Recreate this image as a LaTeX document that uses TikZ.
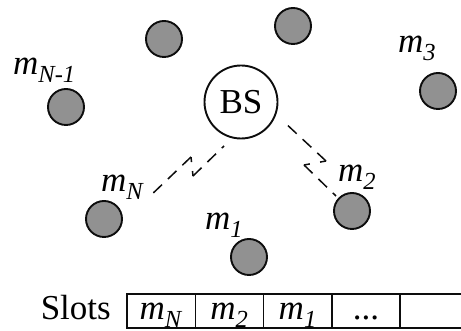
\documentclass[tikz,border=0pt]{standalone}
\usepackage{fontspec}
\setmainfont{Liberation Serif}
\usetikzlibrary{positioning,calc}
\def\normaledge{1.9}
\definecolor{edgeblack}{rgb}{0.05,0.05,0.05}
\definecolor{usergray}{rgb}{0.57,0.57,0.57}
\newcommand{\mlab}[1]{\textit{m}\textsubscript{\textit{#1}}}
\tikzset{
  big/.style={font=\fontsize{35}{40}\selectfont, inner sep=0pt},
  user/.style={circle, draw=edgeblack, fill=usergray, line width=\normaledge, minimum size=36pt, inner sep=0pt},
  station/.style={big, circle, draw=edgeblack, line width=\normaledge, minimum size=73pt},
  link/.style={line width=1.5, color=edgeblack, dash pattern=on 12pt off 8pt},
  cell/.style={big, draw=edgeblack, line width=1.5, minimum width=68.3pt, minimum height=34pt, outer sep=0pt, text height=20pt, text depth=2pt}
}
\begin{document}
\begin{tikzpicture}[x = 1pt, y = 1pt]
  \useasboundingbox (0,0) rectangle (461,331);
  \clip (0,0) rectangle (461,331);

  \node [station] (BS) at (241,229) {BS};

  \node [user] (u1) at (164,292) {};
  \node [user] (u2) at (293,305) {};
  \node [user] (u3) at (438,240) {};
  \node [user] (uN1) at (66,224) {};
  \node [user] (uN) at (104,112) {};
  \node [user] (um1) at (249,74) {};
  \node [user] (um2) at (352,120) {};

  \node [big, anchor=base west] (l3) at (398,278) {\mlab{3}};
  \node [big, anchor=base west] (lN1) at (13,256) {\mlab{N-1}};
  \node [big, anchor=base west] (lN) at (101,139) {\mlab{N}};
  \node [big, anchor=base west] (l1) at (205,101) {\mlab{1}};
  \node [big, anchor=base west] (l2) at (338,149) {\mlab{2}};

  % wireless links with zigzag
  \coordinate (aN) at (224,185);
  \coordinate (bN) at (193,155);
  \coordinate (cN) at (191,174);
  \coordinate (dN) at (148,133);
  \draw [link] (bN) -- (aN);
  \draw [link] (cN) -- (dN);
  \draw [link, dash pattern=on 5pt off 9pt] (bN) -- (cN);

  \coordinate (a2) at (283,210);
  \coordinate (b2) at (326,170);
  \coordinate (c2) at (304,166);
  \coordinate (d2) at (336,135);
  \draw [link] (b2) -- (a2);
  \draw [link] (c2) -- (d2);
  \draw [link, dash pattern=on 6pt off 10.4pt] (b2) -- (c2);

  % slot frame
  \node [cell, anchor=south west] (s1) at (127,3) {\mlab{N}};
  \node [cell, right=0pt of s1] (s2) {\mlab{2}};
  \node [cell, right=0pt of s2] (s3) {\mlab{1}};
  \node [cell, right=0pt of s3] (s4) {...};
  \node [cell, right=0pt of s4] (s5) {};
  \node [big, base left=16pt of s1.base west] (slots) {Slots};
\end{tikzpicture}
\end{document}
